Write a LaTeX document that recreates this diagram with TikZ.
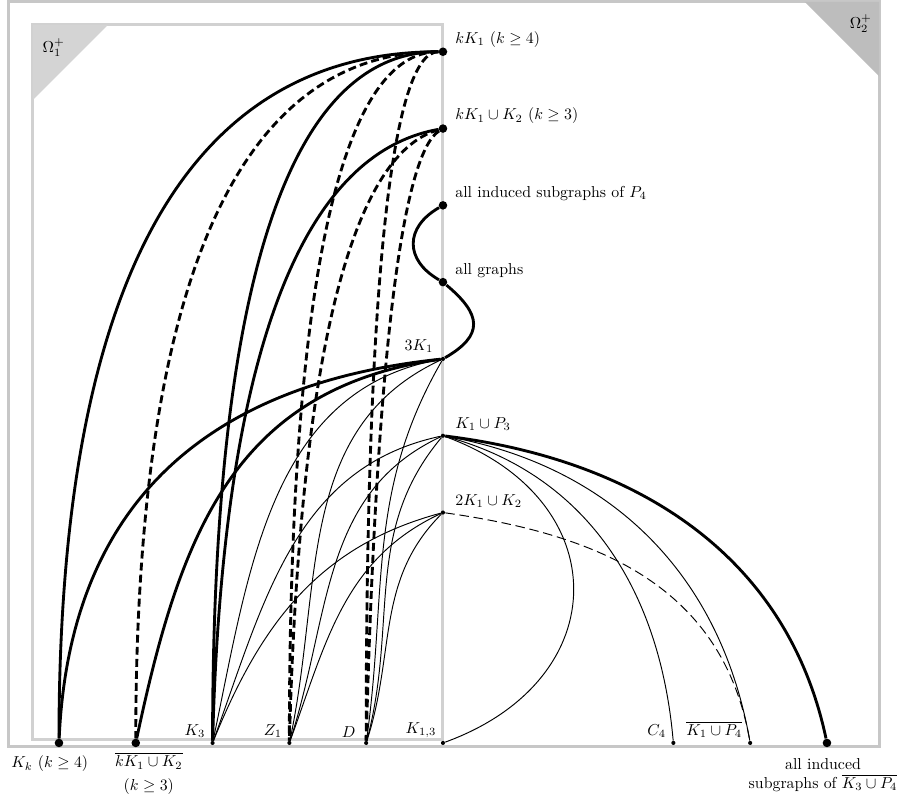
\documentclass[tikz,border=0pt]{standalone}
\usepackage{amsmath,amssymb}
\usetikzlibrary{positioning}

\tikzset{
  dot/.style={circle, fill, inner sep=0pt, minimum size=2.6pt},
  bigdot/.style={dot, minimum size=5.4pt},
  fat/.style={line width=1.8pt},
  fatdash/.style={fat, dash pattern=on 5pt off 2.6pt},
  slim/.style={line width=0.6pt},
  slimdash/.style={slim, dash pattern=on 6pt off 3pt},
  lab/.style={inner sep=0pt},
  region/.style={line width=1.9pt},
}

\begin{document}
\begin{tikzpicture}[x=1.703cm, y=1.703cm]
\useasboundingbox (-5.768,-0.742) rectangle (5.964,9.674);

% the two regions
\draw[region, black!22] (-5.66,-0.05) rectangle (5.68,9.65);
\fill[black!26] (4.71,9.65) -- (5.68,9.65) -- (5.68,8.68) -- cycle;
\draw[region, black!18] (-5.34,0.04) rectangle (0,9.35);
\fill[black!17] (-5.34,9.35) -- (-4.36,9.35) -- (-5.34,8.37) -- cycle;
\node (om1) at (-5.07,9.05) {$\Omega_1^+$};
\node (om2) at (5.44,9.37) {$\Omega_2^+$};

% column of classes
\node[bigdot] (kK) at (0,9) {};
\node[bigdot] (kKK) at (0,8) {};
\node[bigdot] (Pf) at (0,7) {};
\node[bigdot] (all) at (0,6) {};
\node[dot] (tK) at (0,5) {};
\node[dot] (KP) at (0,4) {};
\node[dot] (tKK) at (0,3) {};

% bottom row
\node[bigdot] (Kk) at (-5,0) {};
\node[bigdot] (cKK) at (-4,0) {};
\node[dot] (Kt) at (-3,0) {};
\node[dot] (Zo) at (-2,0) {};
\node[dot] (Dd) at (-1,0) {};
\node[dot] (Kot) at (0,0) {};
\node[dot] (Cf) at (3,0) {};
\node[dot] (cKP) at (4,0) {};
\node[bigdot] (cKPt) at (5,0) {};

% labels
\node[lab, above right=2.8pt and 7.6pt of kK.center] (kKl) {$kK_1$ ($k\geq 4$)};
\node[lab, above right=2.8pt and 7.6pt of kKK.center] (kKKl) {$kK_1\cup K_2$ ($k\geq 3$)};
\node[lab, above right=2.8pt and 7.6pt of Pf.center] (Pfl) {all induced subgraphs of $P_4$};
\node[lab, above right=2.8pt and 7.6pt of all.center] (alll) {all graphs};
\node[lab, above left=3.8pt and 6pt of tK.center] (tKl) {$3K_1$};
\node[lab, above right=2.8pt and 7.6pt of KP.center] (KPl) {$K_1\cup P_3$};
\node[lab, above right=2.8pt and 7.6pt of tKK.center] (tKKl) {$2K_1\cup K_2$};
\node[lab, above left=3.2pt and 4.5pt of Kt.center] (Ktl) {$K_3$};
\node[lab, above left=3.2pt and 4.5pt of Zo.center] (Zol) {$Z_1$};
\node[lab, above left=3.2pt and 6.5pt of Dd.center] (Ddl) {$D$};
\node[lab, above left=3.2pt and 4pt of Kot.center] (Kotl) {$K_{1,3}$};
\node[lab, above left=3.2pt and 4.5pt of Cf.center] (Cfl) {$C_4$};
\node[lab, above left=3.2pt and 5pt of cKP.center] (cKPl) {$\overline{K_1\cup P_4}$};
\node[lab, below=8pt of Kk.center, xshift=-5.8pt] (Kkl) {$K_k$ ($k\geq 4$)};
\node[lab, below=6pt of cKK.center, xshift=8.2pt, align=center] (cKKl)
  {$\overline{kK_1\cup K_2}$\\[3pt]($k\geq 3$)};
\node[lab, below=9.5pt of cKPt.center, xshift=-2.5pt, align=center] (cKPtl)
  {all induced\\subgraphs of $\overline{K_3\cup P_4}$};

% thin edges
\draw[slim] (tK) to[out=190,in=78] (Kt);
\draw[slim] (tK) to[out=205,in=78] (Zo);
\draw[slim] (tK) to[out=240,in=82] (Dd);
\draw[slim] (KP) to[out=192,in=70] (Kt);
\draw[slim] (KP) to[out=205,in=72] (Zo);
\draw[slim] (KP) to[out=230,in=75] (Dd);
\draw[slim] (tKK) to[out=195,in=68] (Kt);
\draw[slim] (tKK) to[out=205,in=70] (Zo);
\draw[slim] (tKK) to[out=225,in=72] (Dd);
\draw[slim] (KP) to[out=-10,in=100] (cKP);
\draw[slim] (KP) to[out=-15,in=95] (Cf);
\draw[slim] (KP) to[out=-20,in=20,looseness=1.53] (Kot);
\draw[slimdash] (tKK) to[out=-8,in=100,looseness=1.05] (cKP);

% thick edges
\draw[fat] (kK) .. controls (-3.333,9) and (-5,6) .. (Kk);
\draw[fatdash] (kK) .. controls (-2.667,9) and (-4,6) .. (cKK);
\draw[fat] (kK) .. controls (-2,9) and (-3,6) .. (Kt);
\draw[fatdash] (kK) .. controls (-1.333,9) and (-2,6) .. (Zo);
\draw[fatdash] (kK) .. controls (-0.667,9) and (-1,6) .. (Dd);
\draw[fat] (kKK) .. controls (-1.867,7.667) and (-2.867,5) .. (Kt);
\draw[fatdash] (kKK) .. controls (-1.2,7.667) and (-1.867,5) .. (Zo);
\draw[fatdash] (kKK) .. controls (-0.533,7.667) and (-0.867,5) .. (Dd);
\draw[fat] (tK) .. controls (-3.2,4.667) and (-4.867,3) .. (Kk);
\draw[fat] (tK) to[out=188,in=78,looseness=1.1] (cKK);
\draw[fat] (Pf) to[out=210,in=150,looseness=1.41] (all);
\draw[fat] (all) to[out=-40,in=30,looseness=1.6] (tK);
\draw[fat] (KP) to[out=-7,in=102] (cKPt);
\end{tikzpicture}
\end{document}
